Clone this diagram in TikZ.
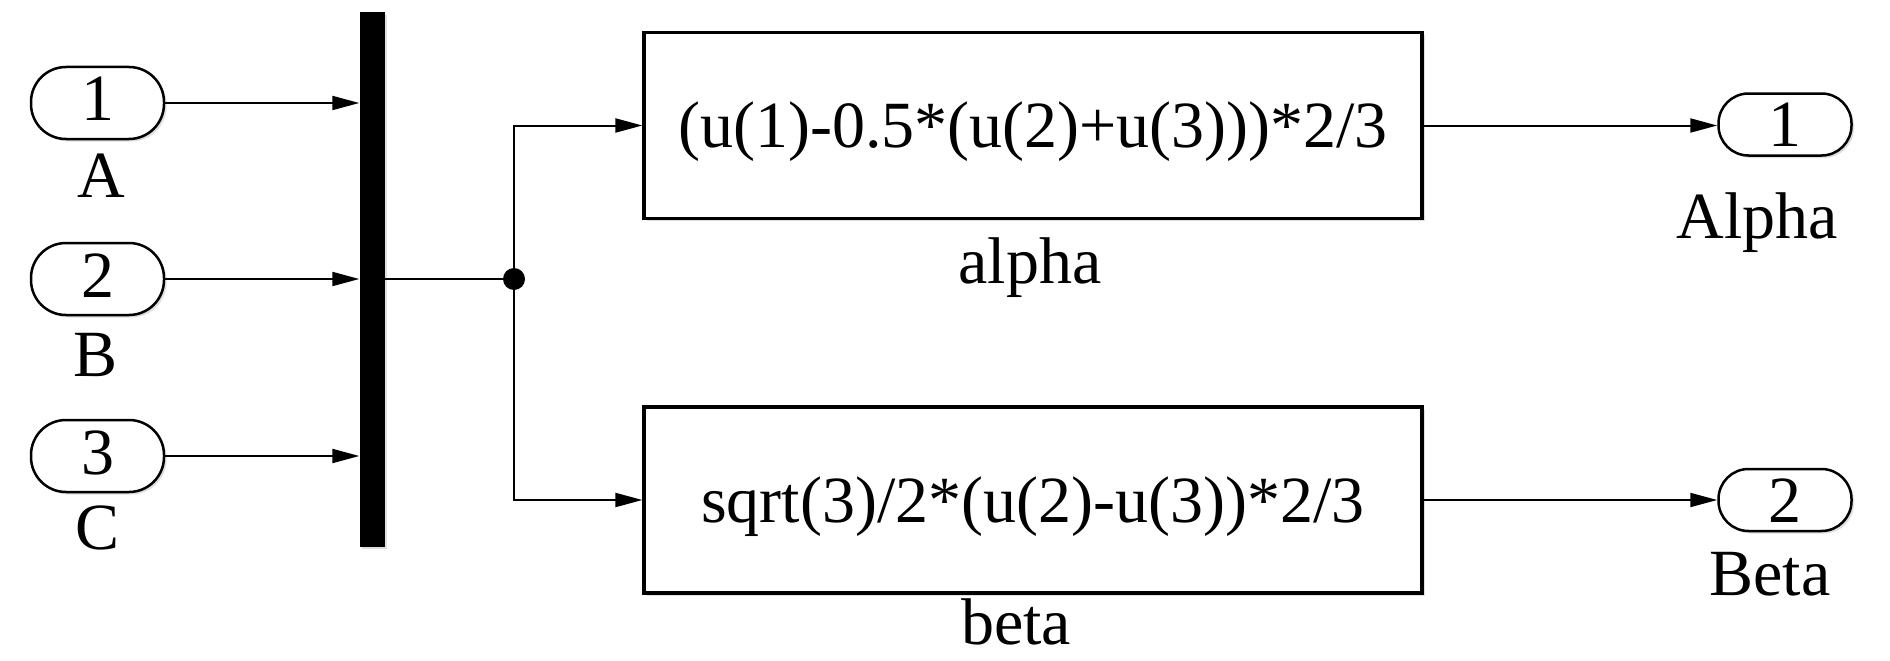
\documentclass[tikz,border=0pt]{standalone}
\usepackage{fontspec}
\setmainfont{Liberation Serif}
\usetikzlibrary{arrows.meta,shadows}
\newcommand{\bigfs}{\fontsize{66}{72}\selectfont}
\begin{document}
\begin{tikzpicture}[x=1pt,y=1pt,
  shd/.style={drop shadow={opacity=0.25,shadow xshift=2.5pt,shadow yshift=-2.5pt}},
  inport/.style={draw,line width=2.5pt,rounded corners=35pt,minimum width=133pt,minimum height=72pt,
    inner sep=0pt,font=\bigfs,text height=44pt,text depth=8pt,fill=white,shd},
  outport/.style={draw,line width=2.5pt,rounded corners=30pt,minimum width=133pt,minimum height=62pt,
    inner sep=0pt,font=\bigfs,text height=44pt,text depth=0pt,fill=white,shd},
  fcn/.style={draw,line width=3.2pt,minimum width=778pt,minimum height=186pt,inner sep=0pt,
    font=\bigfs,text height=44pt,text depth=0pt,fill=white,shd},
  lbl/.style={anchor=base,inner sep=0pt,font=\bigfs},
  muxbar/.style={fill=black,minimum width=25pt,minimum height=534pt,inner sep=0pt,shd},
  conn/.style={line width=2pt},
  arr/.style={conn,-{Triangle[length=27pt,width=14pt]}}
]
\useasboundingbox (0,0) rectangle (1890,-661);
\fill[white] (0,0) rectangle (1890,-661);

% input ports
\node[inport] (in1) at (97.5,-103) {1};
\node[inport] (in2) at (97.5,-279) {2};
\node[inport] (in3) at (97.5,-456) {3};
\node[lbl] (lA) at (101,-197) {A};
\node[lbl] (lB) at (96,-376) {B};
\node[lbl] (lC) at (98,-549) {C};

% mux
\node[muxbar] (mux) at (372,-279.5) {};

% junction
\coordinate (muxout) at (mux.east |- in2.east);
\node[circle,fill=black,minimum size=22pt,inner sep=0pt] (dot) at (514,-279) {};

% function blocks
\node[fcn] (box1) at (1033,-125.5) {(u(1)-0.5*(u(2)+u(3)))*2/3};
\node[fcn] (box2) at (1033,-500) {sqrt(3)/2*(u(2)-u(3))*2/3};
\node[lbl] (lalpha) at (1030,-283.5) {alpha};
\node[lbl] (lbeta) at (1016,-644) {beta};

% output ports
\node[outport] (out1) at (1785,-124.5) {1};
\node[outport] (out2) at (1785,-500) {2};
\node[lbl] (lAlpha) at (1757,-238) {Alpha};
\node[lbl] (lBeta) at (1770,-595) {Beta};

% connectors
\draw[arr] (in1.east) -- (in1.east -| mux.west);
\draw[arr] (in2.east) -- (in2.east -| mux.west);
\draw[arr] (in3.east) -- (in3.east -| mux.west);
\draw[conn] (muxout) -- (dot.center);
\draw[arr] (dot.center) |- (box1.west);
\draw[arr] (dot.center) |- (box2.west);
\draw[arr] (box1.east) -- (out1.west |- box1.east);
\draw[arr] (box2.east) -- (out2.west);
\end{tikzpicture}
\end{document}
